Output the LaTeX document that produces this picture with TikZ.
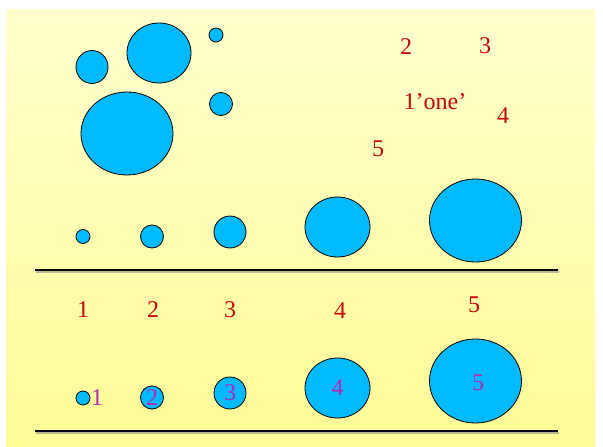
\documentclass[tikz,border=0pt]{standalone}
\usepackage{fontspec}
\setmainfont{Liberation Serif}
\usetikzlibrary{shapes.geometric}
\definecolor{ballfill}{RGB}{0,186,255}
\definecolor{numred}{RGB}{200,8,8}
\definecolor{nummag}{RGB}{180,40,180}
\definecolor{bgtop}{RGB}{255,255,206}
\definecolor{bgbot}{RGB}{255,251,150}
\begin{document}
\begin{tikzpicture}[x=1pt,y=-1pt,
  ball/.style={ellipse,draw=black,line width=0.8pt,fill=ballfill,inner sep=0pt,
    text=nummag,font=\fontsize{24}{28}\selectfont},
  rednum/.style={text=numred,inner sep=0pt,font=\fontsize{24}{28}\selectfont},
  magnum/.style={text=nummag,inner sep=0pt,font=\fontsize{24}{28}\selectfont},
  baseline/.style={line width=2.6pt,black},
  shadowline/.style={line width=2.6pt,black!45,opacity=0.6}]
\useasboundingbox (0,0) rectangle (603,447);
\fill[white] (0,0) rectangle (603,447);
\shade[top color=bgtop,bottom color=bgbot] (6,9) rectangle (595,447);
% top cluster
\node[ball,minimum width=32pt,minimum height=33pt] (a) at (92,67) {};
\node[ball,minimum width=64pt,minimum height=60pt] (b) at (159,53) {};
\node[ball,minimum width=14pt,minimum height=14pt] (c) at (216,35) {};
\node[ball,minimum width=23pt,minimum height=23pt] (d) at (221,104) {};
\node[ball,minimum width=92pt,minimum height=83pt] (e) at (127,133.5) {};
% scattered numbers
\node[rednum] (t2) at (406,46.5) {2};
\node[rednum] (t3) at (485,46) {3};
\node[rednum] (tone) at (435,102) {1’one’};
\node[rednum] (t4) at (503,116) {4};
\node[rednum] (t5) at (378,148.5) {5};
% first row
\node[ball,minimum width=14pt,minimum height=14pt] (r1) at (83,236.5) {};
\node[ball,minimum width=23pt,minimum height=23pt] (r2) at (152,236.5) {};
\node[ball,minimum width=32pt,minimum height=32pt] (r3) at (230,232) {};
\node[ball,minimum width=65pt,minimum height=60pt] (r4) at (337.5,227) {};
\node[ball,minimum width=92pt,minimum height=83pt] (r5) at (475.5,220.5) {};
\coordinate (l1a) at (35,270);
\coordinate (l1b) at (558,270);
\draw[shadowline] ([shift={(1,1.8)}]l1a) -- ([shift={(1,1.8)}]l1b);
\draw[baseline] (l1a) -- (l1b);
% number labels
\node[rednum] (n1) at (83,310) {1};
\node[rednum] (n2) at (153,310) {2};
\node[rednum] (n3) at (230,310) {3};
\node[rednum] (n4) at (340,311) {4};
\node[rednum] (n5) at (474,305) {5};
% second row
\node[ball,minimum width=14pt,minimum height=14pt] (s1) at (83,398) {};
\node[magnum] (s1l) at (97,398) {1};
\node[ball,minimum width=23pt,minimum height=23pt] (s2) at (152,397.5) {2};
\node[ball,minimum width=32pt,minimum height=32pt] (s3) at (230,393) {3};
\node[ball,minimum width=65pt,minimum height=60pt] (s4) at (337.5,388) {4};
\node[ball,minimum width=92pt,minimum height=84pt] (s5) at (475.5,381) {};
\node[magnum] (s5l) at (478,383) {5};
\coordinate (l2a) at (35,431);
\coordinate (l2b) at (558,431);
\draw[shadowline] ([shift={(1,1.8)}]l2a) -- ([shift={(1,1.8)}]l2b);
\draw[baseline] (l2a) -- (l2b);
\end{tikzpicture}
\end{document}
